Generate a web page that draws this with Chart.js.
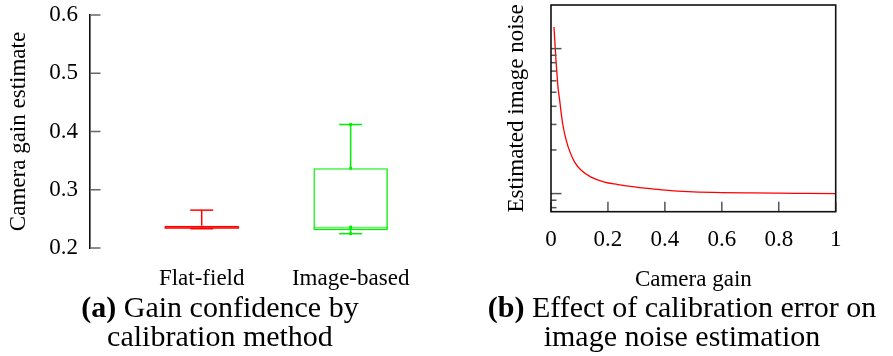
<!DOCTYPE html>
<html><head><meta charset="utf-8">
<script src="https://cdn.jsdelivr.net/npm/chart.js@4/dist/chart.umd.min.js"></script>
<style>
html,body{margin:0;padding:0;background:#fff;width:893px;height:356px;overflow:hidden;}
#c1{position:absolute;left:0;top:0;}
#c2{position:absolute;left:460px;top:0;}
.cap{position:absolute;top:293px;font-family:"Liberation Serif",serif;font-size:30px;line-height:28.5px;text-align:center;color:#000;white-space:nowrap;}
.cap b{font-weight:bold;}
</style></head><body>
<canvas id="c1" width="460" height="295"></canvas>
<canvas id="c2" width="433" height="295"></canvas>
<div class="cap" style="left:0;width:440px;"><b>(a)</b> Gain confidence by<br>calibration method</div>
<div class="cap" style="left:460px;width:444px;"><b>(b)</b> Effect of calibration error on<br>image noise estimation</div>
<script>
// ---------- data: (a) box plot ----------
const categories = ['Flat-field', 'Image-based'];
const whiskerLow  = [0.2331, 0.2246];
const q1          = [0.2331, 0.2305];
const median      = [0.2345, 0.2350];
const q3          = [0.2383, 0.3370];
const whiskerHigh = [0.2650, 0.4120];
const imageBasedSamples = [0.4120, 0.3370, 0.2360, 0.2330, 0.2246];
const seriesColors = ['#ff0000', '#00ee00'];
const yTicksA = [0.2, 0.3, 0.4, 0.5, 0.6];
const yTickLabelsA = ['0.2', '0.3', '0.4', '0.5', '0.6'];

// ---------- data: (b) noise vs gain ----------
const gain  = [0.0105, 0.015, 0.0175, 0.021, 0.0245, 0.0305, 0.036, 0.043, 0.0535, 0.0665, 0.083, 0.106, 0.141, 0.188, 0.235, 0.265, 0.33, 0.38, 0.43, 0.5, 0.6, 0.7, 0.8, 0.9, 1.0];
const noise = [14.1, 10.0, 8.3, 6.72, 5.43, 4.4, 3.56, 2.88, 2.33, 1.94, 1.65, 1.45, 1.30, 1.20, 1.155, 1.13, 1.09, 1.066, 1.045, 1.028, 1.016, 1.01, 1.006, 1.003, 1.0];
const xTicksB = [0, 0.2, 0.4, 0.6, 0.8, 1];
const xTickLabelsB = ['0', '0.2', '0.4', '0.6', '0.8', '1'];
const yTicksB = [0.8, 0.9, 1, 2, 3, 4, 5, 6, 7, 8, 9, 10];
const yMajorB = [1, 10];

const FONT = "'Liberation Serif', 'Times New Roman', serif";
const fnt = {family: FONT, size: 23};

const innerTicks = {
  id: 'innerTicks',
  afterDraw(chart, args, opts) {
    const ctx = chart.ctx, a = chart.chartArea;
    ctx.save();
    ['x', 'y'].forEach(id => {
      const o = opts[id]; if (!o) return;
      const s = chart.scales[id];
      ctx.strokeStyle = o.color; ctx.lineWidth = o.width;
      s.ticks.forEach(t => {
        const p = s.getPixelForValue(t.value);
        const len = (t.major || o.minorLen === undefined) ? o.len : o.minorLen;
        ctx.beginPath();
        if (id === 'y') { ctx.moveTo(a.left, p); ctx.lineTo(a.left + len, p); }
        else { ctx.moveTo(p, a.bottom); ctx.lineTo(p, a.bottom - len); }
        ctx.stroke();
      });
    });
    if (opts.box) {
      ctx.strokeStyle = opts.box.color; ctx.lineWidth = opts.box.width;
      ctx.strokeRect(a.left, a.top, a.right - a.left, a.bottom - a.top);
    }
    ctx.restore();
  }
};

const boxWhiskers = {
  id: 'boxWhiskers',
  afterDatasetsDraw(chart, args, opts) {
    const ctx = chart.ctx, xs = chart.scales.x, ys = chart.scales.y;
    ctx.save();
    ctx.lineWidth = opts.lineWidth;
    categories.forEach((c, i) => {
      const xc = xs.getPixelForValue(i + 1);
      const hb = xs.getPixelForValue(i + 1 + opts.boxHalf) - xc;
      const hc = xs.getPixelForValue(i + 1 + opts.capHalf) - xc;
      ctx.strokeStyle = seriesColors[i];
      const seg = (x1, y1, x2, y2) => { ctx.beginPath(); ctx.moveTo(x1, y1); ctx.lineTo(x2, y2); ctx.stroke(); };
      const yHi = ys.getPixelForValue(whiskerHigh[i]), yQ3 = ys.getPixelForValue(q3[i]);
      const yLo = ys.getPixelForValue(whiskerLow[i]), yQ1 = ys.getPixelForValue(q1[i]);
      const yMed = ys.getPixelForValue(median[i]);
      seg(xc, yQ3, xc, yHi);
      seg(xc, yQ1, xc, yLo);
      seg(xc - hc, yHi, xc + hc, yHi);
      seg(xc - hc, yLo, xc + hc, yLo);
      ctx.globalAlpha = 0.6;
      seg(xc - hb, yMed, xc + hb, yMed);
      ctx.globalAlpha = 1;
    });
    ctx.restore();
  }
};

const noPad = s => { s.paddingTop = 0; s.paddingBottom = 0; s.paddingLeft = 0; s.paddingRight = 0; };

new Chart(document.getElementById('c1'), {
  type: 'bar',
  data: {
    datasets: [{
      data: categories.map((c, i) => ({x: i + 1, y: [q1[i], q3[i]]})),
      backgroundColor: 'rgba(0,0,0,0)',
      borderColor: seriesColors,
      borderWidth: 1.4,
      borderSkipped: false,
      categoryPercentage: 1,
      barPercentage: 0.5
    }, {
      type: 'scatter',
      data: imageBasedSamples.map(v => ({x: 2, y: v})),
      pointStyle: 'rect',
      pointRadius: 2,
      backgroundColor: seriesColors[1],
      borderWidth: 0
    }]
  },
  options: {
    responsive: false, animation: false,
    layout: {padding: {left: 0, right: 20, top: 15, bottom: 0}},
    plugins: {
      legend: {display: false}, tooltip: {enabled: false},
      innerTicks: {y: {len: 10.5, color: '#666', width: 1.5}},
      boxWhiskers: {lineWidth: 1.5, boxHalf: 0.25, capHalf: 0.077}
    },
    scales: {
      x: {
        type: 'linear', min: 0.25, max: 2.6, offset: false,
        grid: {display: false, drawTicks: false}, border: {display: false},
        afterBuildTicks: s => { s.ticks = categories.map((c, i) => ({value: i + 1})); },
        afterFit: s => { s.height = 47; noPad(s); },
        ticks: {padding: 17, color: '#000', font: fnt, maxRotation: 0, autoSkip: false,
          callback: (v, i) => categories[i]}
      },
      y: {
        min: 0.2, max: 0.6,
        grid: {display: false, drawTicks: false},
        border: {display: true, color: '#111', width: 1.6},
        afterBuildTicks: s => { s.ticks = yTicksA.map(v => ({value: v})); },
        afterFit: s => { s.width = 90; noPad(s); },
        ticks: {padding: 12, color: '#000', font: fnt, callback: (v, i) => yTickLabelsA[i]},
        title: {display: true, text: 'Camera gain estimate', color: '#000', font: fnt, padding: {top: 5, bottom: 0}}
      }
    }
  },
  plugins: [innerTicks, boxWhiskers]
});

new Chart(document.getElementById('c2'), {
  type: 'line',
  data: {
    datasets: [{
      data: gain.map((g, i) => ({x: g, y: noise[i]})),
      borderColor: '#ff0000', borderWidth: 1.3, pointRadius: 0, fill: false,
      cubicInterpolationMode: 'monotone'
    }]
  },
  options: {
    responsive: false, animation: false,
    layout: {padding: {left: 0, right: 57.3, top: 5, bottom: 0}},
    plugins: {
      legend: {display: false}, tooltip: {enabled: false},
      innerTicks: {
        x: {len: 10, color: '#555', width: 1.5},
        y: {len: 10.5, minorLen: 5.5, color: '#555', width: 1.5},
        box: {color: '#111', width: 1.6}
      }
    },
    scales: {
      x: {
        type: 'linear', min: 0, max: 1,
        grid: {display: false, drawTicks: false}, border: {display: false},
        afterBuildTicks: s => { s.ticks = xTicksB.map(v => ({value: v})); },
        afterFit: s => { s.height = 83.3; noPad(s); },
        ticks: {padding: 14.5, color: '#000', font: fnt, maxRotation: 0, autoSkip: false,
          callback: (v, i) => xTickLabelsB[i]},
        title: {display: true, text: 'Camera gain', color: '#000', font: fnt, padding: {top: 0, bottom: 1}}
      },
      y: {
        type: 'logarithmic', min: 0.75, max: 20,
        grid: {display: false, drawTicks: false}, border: {display: false},
        afterBuildTicks: s => { s.ticks = yTicksB.map(v => ({value: v, major: yMajorB.includes(v)})); },
        afterFit: s => { s.width = 91; noPad(s); },
        ticks: {display: false},
        title: {display: true, text: 'Estimated image noise', color: '#000', font: fnt, padding: {top: 43, bottom: 0}}
      }
    }
  },
  plugins: [innerTicks]
});
</script>
</body></html>
